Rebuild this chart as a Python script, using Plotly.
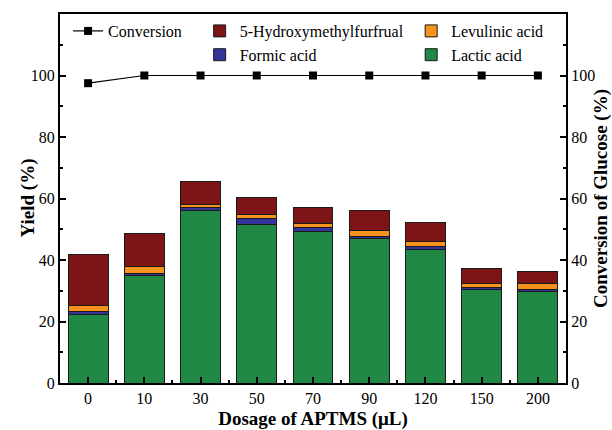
import plotly.graph_objects as go

categories = ["0", "10", "30", "50", "70", "90", "120", "150", "200"]
lactic = [22.4, 34.8, 56.0, 51.6, 49.2, 46.9, 43.5, 30.5, 29.8]
formic = [0.9, 0.8, 1.1, 1.9, 1.4, 0.9, 0.8, 0.6, 0.6]
levulinic = [2.0, 2.4, 1.1, 1.2, 1.3, 1.9, 1.6, 1.3, 1.8]
hmf = [16.6, 10.7, 7.3, 5.6, 5.2, 6.5, 6.3, 5.0, 3.9]
conversion = [97.5, 100, 100, 100, 100, 100, 100, 100, 100]

major_ticks = [0, 20, 40, 60, 80, 100]
minor_ticks = [10, 30, 50, 70, 90, 110]

xpos = list(range(len(categories)))
FONT = "Times New Roman, Liberation Serif, serif"
outline = dict(color="#1a1a1a", width=1)

fig = go.Figure()
fig.add_trace(go.Scatter(x=xpos, y=conversion, name="Conversion", mode="lines+markers",
                         line=dict(color="black", width=1.2),
                         marker=dict(symbol="square", size=8, color="black"),
                         yaxis="y2", legend="legend", showlegend=True))
fig.add_trace(go.Bar(x=xpos, y=lactic, name="Lactic acid", marker=dict(color="#1E8844", line=outline),
                     width=0.71, legend="legend3", legendrank=2))
fig.add_trace(go.Bar(x=xpos, y=formic, name="Formic acid", marker=dict(color="#35349A", line=outline),
                     width=0.71, legend="legend2", legendrank=2))
fig.add_trace(go.Bar(x=xpos, y=levulinic, name="Levulinic acid", marker=dict(color="#F7921E", line=outline),
                     width=0.71, legend="legend3", legendrank=1))
fig.add_trace(go.Bar(x=xpos, y=hmf, name="5-Hydroxymethylfurfrual", marker=dict(color="#7D1416", line=outline),
                     width=0.71, legend="legend2", legendrank=1))

legend_common = dict(font=dict(family=FONT, size=16, color="black"), bgcolor="rgba(0,0,0,0)",
                     yanchor="top", xanchor="left", y=1.0, traceorder="normal",
                     tracegroupgap=0, itemwidth=30)

axis_font = dict(family=FONT, size=16, color="black")
title_font = dict(family=FONT, size=19, color="black")

fig.update_layout(
    width=612, height=430,
    margin=dict(l=60, r=46, t=14, b=47, autoexpand=False),
    paper_bgcolor="white", plot_bgcolor="white",
    barmode="stack", bargap=0.29,
    showlegend=True,
    font=dict(family=FONT, size=16, color="black"),
    legend=dict(x=0.016, **legend_common),
    legend2=dict(x=0.276, **legend_common),
    legend3=dict(x=0.694, **legend_common),
    xaxis=dict(range=[-0.5, 8.5], tickmode="array", tickvals=xpos, ticktext=categories,
               ticks="inside", ticklen=6, tickwidth=2, tickcolor="black",
               minor=dict(tickmode="array", tickvals=[i + 0.5 for i in range(8)], ticks="inside",
                          ticklen=3, tickwidth=2, tickcolor="black"),
               showline=True, linewidth=2, linecolor="black", mirror=True,
               showgrid=False, zeroline=False, automargin=False,
               tickfont=axis_font,
               title=dict(text="<b>Dosage of APTMS (μL)</b>", font=title_font, standoff=6)),
    yaxis=dict(range=[0, 120], tickmode="array", tickvals=major_ticks,
               ticks="inside", ticklen=6, tickwidth=2, tickcolor="black",
               minor=dict(tickmode="array", tickvals=minor_ticks, ticks="inside",
                          ticklen=3, tickwidth=2, tickcolor="black"),
               showline=True, linewidth=2, linecolor="black",
               showgrid=False, zeroline=False, automargin=False,
               tickfont=axis_font),
    yaxis2=dict(range=[0, 120], tickmode="array", tickvals=major_ticks, overlaying="y", side="right",
                ticks="inside", ticklen=6, tickwidth=2, tickcolor="black",
                minor=dict(tickmode="array", tickvals=minor_ticks, ticks="inside",
                           ticklen=3, tickwidth=2, tickcolor="black"),
                showline=True, linewidth=2, linecolor="black",
                showgrid=False, zeroline=False, automargin=False,
                tickfont=axis_font,
                title=dict(text="<b>Conversion of Glucose (%)</b>", font=title_font, standoff=1)),
    annotations=[dict(text="<b>Yield (%)</b>", xref="paper", yref="paper",
                      x=-33 / 506, y=0.5, xanchor="center", yanchor="middle",
                      textangle=-90, showarrow=False, font=title_font)],
)

fig.write_html("out.html", post_script="document.body.style.margin='0';",
               config={"displayModeBar": False})
